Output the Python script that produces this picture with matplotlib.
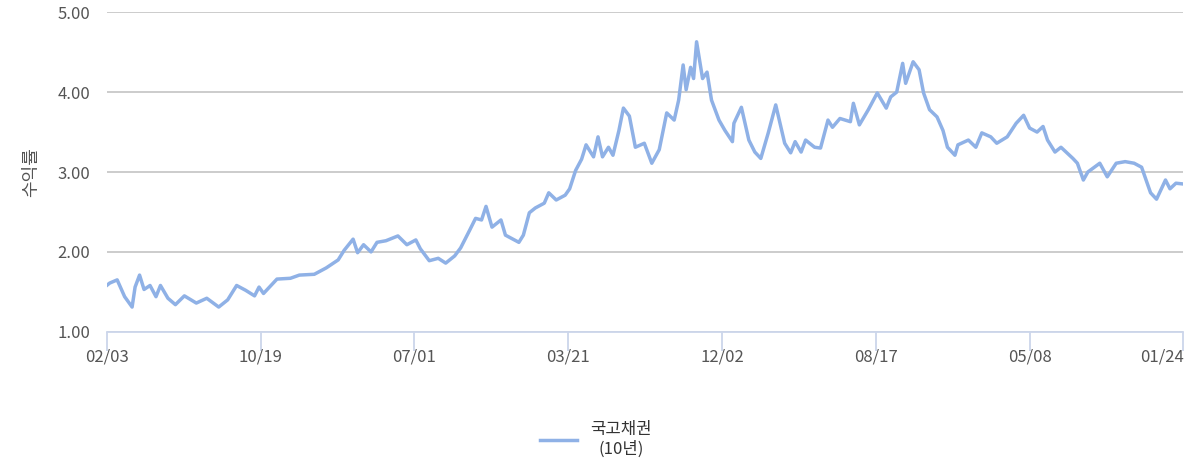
import matplotlib
matplotlib.use("Agg")
import matplotlib.pyplot as plt
from matplotlib.lines import Line2D

plt.rcParams['font.family'] = ['Noto Sans CJK KR', 'DejaVu Sans']

tick_labels = ["02/03", "10/19", "07/01", "03/21", "12/02", "08/17", "05/08", "01/24"]
obs_index = [0, 2, 7, 12, 17, 19, 22, 25, 29, 33, 36, 41, 46, 52, 60, 67, 75, 81, 87, 93, 99,
             102, 105, 114, 123, 129, 139, 147, 155, 159, 165, 168, 172, 177, 181, 187, 195,
             201, 207, 210, 216, 222, 227, 233, 237, 243, 247, 251, 254, 258, 264, 267, 276,
             279, 283, 287, 293, 296, 301, 307, 310, 314, 318, 321, 326, 329, 332, 336, 339,
             343, 346, 350, 354, 360, 365, 370,
             375, 380, 383, 386, 388, 391, 393, 395, 399, 402, 405, 410, 414, 419, 420, 425,
             430, 434, 438, 443, 448, 452, 454, 458, 461, 465, 468, 474, 478, 483, 486, 491,
             498, 500, 504, 510, 516, 522, 525, 529, 533, 535, 540, 544, 547, 551, 556, 560,
             563, 568, 570, 577, 582, 586, 592, 596, 603, 609, 614, 618, 623, 627, 630, 635,
             639, 647, 650, 654, 657, 665, 670, 676, 682, 688, 693, 699, 703, 709, 712, 716, 721]
yield_10y = [1.58, 1.61, 1.65, 1.44, 1.31, 1.56, 1.71, 1.53, 1.58, 1.44, 1.58, 1.42, 1.34, 1.45,
             1.36, 1.42, 1.31, 1.40, 1.58, 1.52, 1.45, 1.56, 1.48, 1.66, 1.67, 1.71, 1.72, 1.80,
             1.90, 2.02, 2.16, 1.99, 2.09, 2.00, 2.12, 2.14, 2.20, 2.09, 2.15, 2.04, 1.89, 1.92,
             1.86, 1.95, 2.05, 2.27, 2.42, 2.40, 2.57, 2.31, 2.40, 2.21, 2.12, 2.21, 2.49, 2.55,
             2.61, 2.74, 2.65, 2.71, 2.79, 3.02, 3.16, 3.34, 3.19, 3.44, 3.19, 3.31, 3.21, 3.52,
             3.80, 3.70, 3.31, 3.36, 3.11, 3.28,
             3.74, 3.65, 3.90, 4.34, 4.03, 4.31, 4.17, 4.63, 4.17, 4.25, 3.90, 3.65, 3.52, 3.38,
             3.61, 3.81, 3.40, 3.25, 3.17, 3.49, 3.84, 3.52, 3.36, 3.24, 3.38, 3.25, 3.40, 3.31,
             3.30, 3.65, 3.56, 3.67, 3.63, 3.86, 3.59, 3.78, 3.99, 3.80, 3.94, 4.00, 4.36, 4.11,
             4.38, 4.28, 3.99, 3.78, 3.69, 3.52, 3.31, 3.21, 3.34, 3.40, 3.31, 3.49, 3.44, 3.36,
             3.44, 3.61, 3.71, 3.55, 3.50, 3.57, 3.40, 3.25, 3.31, 3.17, 3.11, 2.90, 3.00, 3.11,
             2.94, 3.11, 3.13, 3.11, 3.06, 2.74, 2.66, 2.90, 2.79, 2.86, 2.85]
y_ticks = [1.0, 2.0, 3.0, 4.0, 5.0]

fig = plt.figure(figsize=(11.99, 4.70), dpi=100)
ax = fig.add_axes([0.089, 0.294, 0.898, 0.680])
color = "#8fb1e6"
ax.plot(obs_index, yield_10y, color=color, lw=2.5, solid_joinstyle='round')
n = obs_index[-1]
ax.set_xlim(0, n)
ax.set_ylim(1, 5)
ax.set_yticks(y_ticks)
ax.set_yticklabels([f"{v:.2f}" for v in y_ticks])
step = n / (len(tick_labels) - 1)
ax.set_xticks([i * step for i in range(len(tick_labels))])
ax.set_xticklabels(tick_labels)
ax.get_xticklabels()[-1].set_horizontalalignment('right')
ax.grid(axis='y', color='#c8c8c8', lw=1.3)
for s in ['top', 'right', 'left']:
    ax.spines[s].set_visible(False)
ax.spines['bottom'].set_color('#ccd6eb')
ax.spines['bottom'].set_linewidth(1.3)
ax.tick_params(axis='x', length=14, color='#ccd6eb', width=1.3, labelsize=12, labelcolor='#555555', pad=-2)
ax.tick_params(axis='y', length=0, labelsize=12, labelcolor='#555555', pad=12)
ax.set_ylabel("수익률", fontsize=13, color='#555555', labelpad=12)
ax.set_axisbelow(True)

h = Line2D([], [], color=color, lw=2.5)
leg = fig.legend([h], ["국고채권\n(10년)"], loc='center', bbox_to_anchor=(0.497, 0.065),
                 frameon=False, fontsize=12, handlelength=2.2, labelcolor='#333333')
for t in leg.get_texts():
    t.set_multialignment('center')
fig.savefig("out.png", dpi=100)
